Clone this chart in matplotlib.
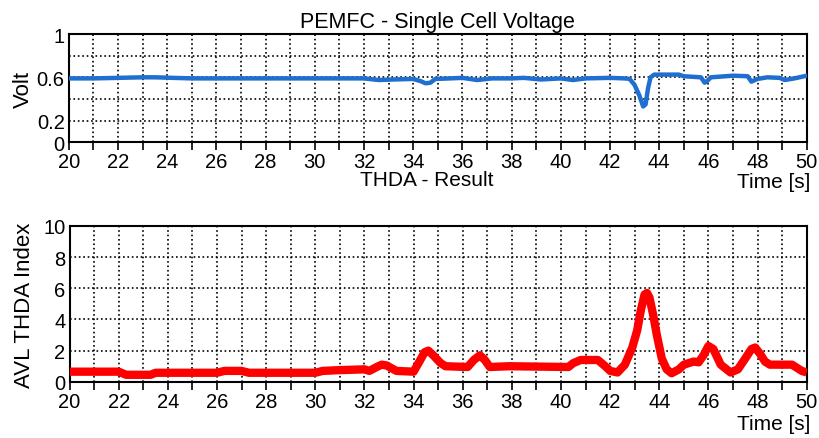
import matplotlib
matplotlib.use("Agg")
import matplotlib.pyplot as plt
import numpy as np

plt.rcParams['font.family'] = ['Liberation Sans', 'DejaVu Sans']

# Single cell voltage (time [s], volt)
volt_t = [20, 21, 22, 23, 23.5, 25, 27, 29, 31, 32, 32.6, 33.2, 34.0, 34.3, 34.5,
          34.7, 34.9, 35.5, 36.0, 36.6, 37.2, 38, 38.5, 39.2, 40, 40.5, 41, 42,
          42.6, 42.8, 43.0, 43.2, 43.35, 43.45, 43.55, 43.65, 43.8, 44.8, 45.0,
          45.7, 45.85, 45.95, 46.1, 47, 47.6, 47.75, 47.85, 48.0, 48.4, 48.9,
          49.1, 49.5, 50]
volt_v = [0.59, 0.59, 0.595, 0.6, 0.6, 0.59, 0.59, 0.59, 0.59, 0.59, 0.575, 0.58,
          0.585, 0.565, 0.545, 0.55, 0.585, 0.59, 0.595, 0.575, 0.59, 0.59, 0.595,
          0.58, 0.59, 0.575, 0.59, 0.595, 0.59, 0.585, 0.53, 0.43, 0.33, 0.35,
          0.5, 0.6, 0.625, 0.625, 0.61, 0.6, 0.55, 0.565, 0.6, 0.615, 0.61, 0.56,
          0.57, 0.585, 0.6, 0.595, 0.575, 0.59, 0.615]

# AVL THDA index (time [s], index)
thda_t = [20, 22.0, 22.3, 23.3, 23.5, 26.0, 26.3, 27.0, 27.3, 30.0, 30.3, 31.0,
          32.0, 32.2, 32.5, 32.7, 32.9, 33.3, 34.0, 34.2, 34.45, 34.6, 34.8, 35.1,
          35.3, 36.2, 36.45, 36.7, 36.9, 37.1, 37.9, 40.3, 40.5, 40.8, 41.5, 41.8,
          42.0, 42.3, 42.6, 42.9, 43.1, 43.25, 43.4, 43.5, 43.6, 43.75, 43.9,
          44.1, 44.3, 44.5, 44.8, 45.0, 45.4, 45.6, 45.8, 46.0, 46.2, 46.5, 46.9,
          47.2, 47.5, 47.75, 47.9, 48.1, 48.3, 48.5, 49.4, 49.8, 50]
thda_v = [0.65, 0.65, 0.45, 0.45, 0.58, 0.58, 0.7, 0.7, 0.58, 0.58, 0.7, 0.75,
          0.8, 0.7, 0.95, 1.1, 1.05, 0.7, 0.65, 1.2, 1.9, 2.0, 1.7, 1.2,
          1.0, 0.95, 1.4, 1.7, 1.4, 0.95, 1.0, 0.95, 1.2, 1.4, 1.4, 1.0,
          0.7, 0.6, 1.1, 2.2, 3.3, 4.6, 5.6, 5.7, 5.4, 4.3, 3.0,
          1.5, 0.8, 0.55, 0.8, 1.1, 1.3, 1.25, 1.7, 2.3, 2.1, 1.1, 0.6,
          0.8, 1.5, 2.1, 2.2, 1.8, 1.3, 1.1, 1.1, 0.7, 0.6]

x_ticks = np.arange(20, 51, 2)
x_grid = np.arange(20, 51, 1)

fig = plt.figure(figsize=(8.19, 4.39), dpi=100)
ax1 = fig.add_axes([0.084, 0.674, 0.901, 0.246])
ax2 = fig.add_axes([0.085, 0.128, 0.900, 0.355])


def style(ax):
    ax.set_xlim(20, 50)
    ax.set_xticks(x_ticks)
    ax.set_xticks(x_grid, minor=True)
    ax.tick_params(axis='x', which='both', direction='out', length=6, width=1.2,
                   labelsize=14.5, pad=1)
    ax.tick_params(axis='y', length=0, labelsize=14.5, pad=3)
    ax.grid(True, which='both', axis='x', color='black', linestyle=':', linewidth=1.2)
    ax.grid(True, which='major', axis='y', color='black', linestyle=':', linewidth=1.2)
    for s in ax.spines.values():
        s.set_linewidth(1.5)


ax1.plot(volt_t, volt_v, color='#1f6fd0', linewidth=3.2, zorder=3,
         solid_joinstyle='round')
ax1.set_ylim(0, 1)
ax1.set_yticks([0, 0.2, 0.4, 0.6, 0.8, 1])
ax1.set_yticklabels(['0', '0.2', '', '0.6', '', '1'])
style(ax1)
ax1.set_ylabel('Volt', fontsize=16, labelpad=2)
ax1.set_title('PEMFC - Single Cell Voltage', fontsize=15.5, pad=5)

ax2.plot(thda_t, thda_v, color='#ff0000', linewidth=6, solid_capstyle='butt',
         solid_joinstyle='round', zorder=3)
ax2.set_ylim(0, 10)
ax2.set_yticks([0, 2, 4, 6, 8, 10])
style(ax2)
ax2.set_ylabel('AVL THDA Index', fontsize=16, labelpad=6)

fig.text(427 / 819, 1 - 180 / 439, 'THDA - Result', fontsize=15, ha='center', va='center')
fig.text(810 / 819, 1 - 183 / 439, 'Time [s]', fontsize=15, ha='right', va='center')
fig.text(810 / 819, 1 - 425 / 439, 'Time [s]', fontsize=15, ha='right', va='center')

fig.savefig('out.png', dpi=100)
